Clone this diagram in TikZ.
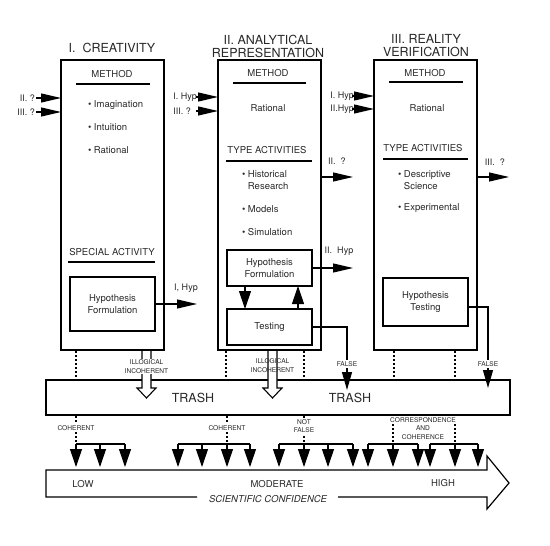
\documentclass[tikz,border=0pt]{standalone}
\usepackage{fontspec}
\setmainfont{TeX Gyre Heros}
\usetikzlibrary{arrows.meta,calc}
\definecolor{ink}{RGB}{40,40,40}
\begin{document}
\begin{tikzpicture}[x=1pt,y=-1pt,
  font=\fontsize{9.5}{12}\selectfont, text=ink,
  every node/.style={inner sep=0pt, outer sep=0pt},
  bigbox/.style={draw, line width=1.2pt, minimum width=103pt, minimum height=290pt},
  inbox/.style={draw, line width=1.1pt, minimum width=85pt, align=center},
  ttl/.style={font=\fontsize{12.5}{13}\selectfont, align=center},
  hdr/.style={font=\fontsize{9.5}{11}\selectfont},
  tinyl/.style={font=\fontsize{6.6}{8.5}\selectfont, align=center},
  lbl/.style={font=\fontsize{9}{11}\selectfont},
  arr/.style={line width=1.1pt, -{Triangle[length=20pt,width=9pt]}},
  varr/.style={line width=1.1pt, -{Triangle[length=18pt,width=12pt]}},
  farr/.style={line width=1.1pt, -{Triangle[length=18pt,width=10pt]}},
  dots/.style={line width=1.2pt, dash pattern=on 2pt off 2pt},
  uline/.style={line width=1.4pt},
  hollow/.style={line width=1.1pt, fill=white}
]
\useasboundingbox (0,0) rectangle (550,546);

% titles
\node[ttl] (t1) at (112,48) {I.\ \ CREATIVITY};
\node[ttl] (t2) at (268,46.5) {II. ANALYTICAL\\REPRESENTATION};
\node[ttl] (t3) at (426,46) {III. REALITY\\VERIFICATION};

% main boxes
\node[bigbox] (c1) at (112.5,205) {};
\node[bigbox] (c2) at (269.5,205) {};
\node[bigbox] (c3) at (425.5,205) {};

% column I
\node[hdr] (m1) at (112,74) {METHOD};
\draw[uline] (76,84) -- (150,84);
\node[anchor=west] (i1) at (88,105) {\textbullet\ Imagination};
\node[anchor=west] (i2) at (88,127) {\textbullet\ Intuition};
\node[anchor=west] (i3) at (88,150) {\textbullet\ Rational};
\node[hdr] (s1) at (112,252) {SPECIAL ACTIVITY};
\draw[uline] (68,262) -- (155,262);
\node[inbox, minimum height=54pt] (hf1) at (112.5,304) {Hypothesis\\Formulation};

% column II
\node[hdr] (m2) at (268,73) {METHOD};
\draw[uline] (233,83) -- (306,83);
\node (r2) at (268,108) {Rational};
\node[hdr] (ta2) at (267,150) {TYPE ACTIVITIES};
\draw[uline] (226,161) -- (312,161);
\node[anchor=west, align=left] (j1) at (242,180) {\textbullet\ Historical\\\phantom{\textbullet\ }Research};
\node[anchor=west] (j2) at (242,209) {\textbullet\ Models};
\node[anchor=west] (j3) at (242,232) {\textbullet\ Simulation};
\node[inbox, minimum height=36pt] (hf2) at (269.5,268) {Hypothesis\\Formulation};
\node[inbox, minimum height=36pt] (ts2) at (269.5,327) {Testing};

% column III
\node[hdr] (m3) at (425,73) {METHOD};
\draw[uline] (389,82) -- (463,82);
\node (r3) at (427,108) {Rational};
\node[hdr] (ta3) at (423,148) {TYPE ACTIVITIES};
\draw[uline] (383,159) -- (468,159);
\node[anchor=west, align=left] (k1) at (398,180) {\textbullet\ Descriptive\\\phantom{\textbullet\ }Science};
\node[anchor=west] (k2) at (398,208) {\textbullet\ Experimental};
\node[inbox, minimum height=48pt] (ht3) at (425.5,302) {Hypothesis\\Testing};

% inputs / outputs
\node[lbl, anchor=east] (q1) at (35,98) {II. ?};
\coordinate (q1e) at (36,98);
\draw[arr] (q1e) -- (q1e -| c1.west);
\node[lbl, anchor=east] (q2) at (35,112) {III. ?};
\coordinate (q2e) at (36,112);
\draw[arr] (q2e) -- (q2e -| c1.west);

\node[lbl, anchor=east] (h1) at (197,97) {I. Hyp};
\coordinate (h1e) at (196,97);
\draw[arr] (h1e) -- (h1e -| c2.west);
\node[lbl, anchor=east] (h2) at (191,111) {III. ?};
\coordinate (h2e) at (196,111);
\draw[arr] (h2e) -- (h2e -| c2.west);

\node[lbl, anchor=east] (g1) at (354,96) {I. Hyp};
\coordinate (g1e) at (352,96);
\draw[arr] (g1e) -- (g1e -| c3.west);
\node[lbl, anchor=east] (g2) at (354,109) {II.Hyp};
\coordinate (g2e) at (352,109);
\draw[arr] (g2e) -- (g2e -| c3.west);

\node[lbl] (q3l) at (337,161) {II.\ \ ?};
\coordinate (q3) at (353,177);
\draw[arr] (q3 -| c2.east) -- (q3);
\node[lbl] (q4l) at (495,162) {III.\ \ ?};
\coordinate (q4) at (509,177);
\draw[arr] (q4 -| c3.east) -- (q4);

\node[lbl] (h3l) at (339,251) {II.\ \ Hyp};
\coordinate (h3) at (353,268);
\draw[arr] (hf2.east) -- (h3);
\node[lbl] (h4l) at (186,288) {I, Hyp};
\coordinate (h4) at (197,304);
\draw[arr] (hf1.east) -- (h4);

\coordinate (d1) at (245,0);
\draw[varr] (hf2.south -| d1) -- (ts2.north -| d1);
\coordinate (u1) at (298,0);
\draw[varr] (ts2.north -| u1) -- (hf2.south -| u1);

% trash
\node[draw, line width=1.2pt, minimum width=464pt, minimum height=35pt] (tr) at (278,397.5) {};
\node[font=\fontsize{12.5}{14}\selectfont] (tr1) at (193,398) {TRASH};
\node[font=\fontsize{12.5}{14}\selectfont] (tr2) at (350,398) {TRASH};

% dotted links to trash
\draw[dots] (76,351) -- (76,380);
\draw[dots] (226,351) -- (226,380);
\draw[dots] (304,351) -- (304,380);
\draw[dots] (394,351) -- (394,380);
\draw[dots] (455,351) -- (455,380);

% hollow arrows
\draw[hollow] (142,351) -- (142,388) -- (137,388) -- (146.5,398) -- (156,388) -- (151,388) -- (151,351);
\node[tinyl, fill=white, inner sep=1pt] (il1) at (146.5,366.5) {ILLOGICAL\\INCOHERENT};
\draw[hollow] (268,351) -- (268,388) -- (263,388) -- (272.5,398) -- (282,388) -- (277,388) -- (277,351);
\node[tinyl, inner sep=1pt] (il2) at (272.5,365.5) {ILLOGICAL\\INCOHERENT};

% false paths
\coordinate (f2) at (347,390);
\draw[farr] (ts2.east) -| (f2);
\node[tinyl, fill=white, inner sep=1pt] (fl2) at (347,364) {FALSE};
\coordinate (f3) at (488,388);
\draw[farr] ($(ht3.east)+(0,5)$) -| (f3);
\node[tinyl, fill=white, inner sep=1pt] (fl3) at (488,364) {FALSE};

% big confidence arrow
\draw[line width=1.2pt, fill=white] (197,497) -- (46,497) -- (46,470) -- (487,470) -- (487,456) -- (509,483) -- (487,509) -- (487,497) -- (338,497);
\node (low) at (83,484) {LOW};
\node (mod) at (277,484) {MODERATE};
\node (high) at (443,483) {HIGH};
\node[font=\fontsize{9.5}{11}\selectfont\itshape] (sc) at (268,499) {SCIENTIFIC CONFIDENCE};

% bottom groups
\draw[dots] (76,416) -- (76,444);
\node[tinyl, fill=white, inner sep=1pt] (co1) at (76,428) {COHERENT};
\draw[line width=1.1pt] (76,444) -- (125,444);
\foreach \x in {76,100,125} \draw[varr] (\x,444) -- (\x,467);

\draw[dots] (227,416) -- (227,444);
\node[tinyl, fill=white, inner sep=1pt] (co2) at (227,428) {COHERENT};
\draw[line width=1.1pt] (178,444) -- (250,444);
\foreach \x in {178,202,227,250} \draw[varr] (\x,444) -- (\x,467);

\draw[dots] (304,416) -- (304,444);
\node[tinyl, fill=white, inner sep=1pt] (nf) at (304,426) {NOT\\FALSE};
\draw[line width=1.1pt] (279,444) -- (353,444);
\foreach \x in {279,304,328,353} \draw[varr] (\x,444) -- (\x,467);

\draw[dots] (393,416) -- (393,444);
\draw[dots] (455,416) -- (455,444);
\node[tinyl, fill=white, inner sep=1pt] (cc1) at (423,420) {CORRESPONDENCE};
\node[tinyl] (cc2) at (423,428.5) {AND};
\node[tinyl] (cc3) at (423,437) {COHERENCE};
\draw[line width=1.1pt] (368,444) -- (418,444);
\foreach \x in {368,393,418} \draw[varr] (\x,444) -- (\x,467);
\draw[line width=1.1pt] (430,444) -- (478,444);
\foreach \x in {430,455,478} \draw[varr] (\x,444) -- (\x,467);

\end{tikzpicture}
\end{document}
